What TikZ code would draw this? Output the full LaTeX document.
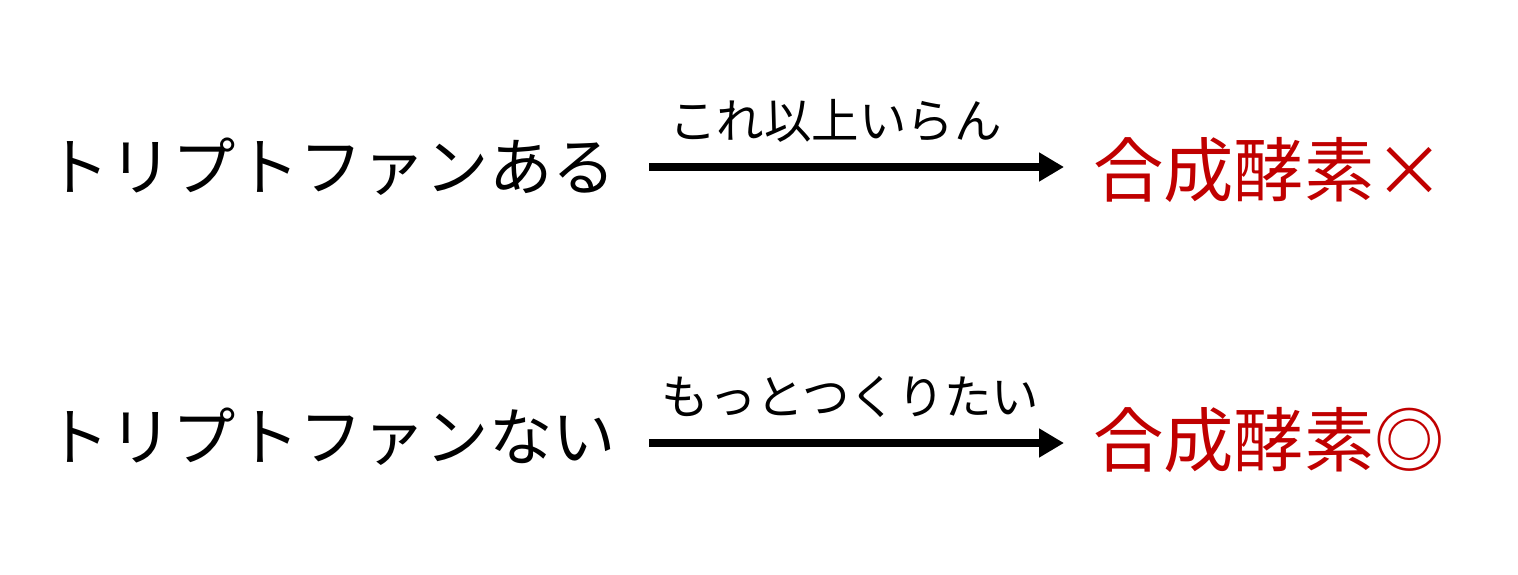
\documentclass[tikz,border=0pt]{standalone}
\usepackage{fontspec}
\setmainfont{Noto Sans CJK JP}
\usetikzlibrary{arrows.meta}
\definecolor{enzred}{RGB}{192,0,0}
\tikzset{
  amino/.style={font=\fontsize{36pt}{40pt}\selectfont, inner sep=0pt, anchor=west},
  enzyme/.style={font=\fontsize{40pt}{44pt}\selectfont, text=enzred, inner sep=0pt, anchor=west},
  signal/.style={font=\fontsize{27pt}{31pt}\selectfont, inner sep=0pt},
  flow/.style={line width=4.5pt, -{Triangle[length=0.5cm,width=0.55cm]}}
}
\begin{document}
\begin{tikzpicture}
\useasboundingbox (0,0) rectangle (30.36,-11.48);
\node (src1)[amino] at (0.92, -3.34) {トリプトファンある};
\node (dst1)[enzyme] at (21.86, -3.4) {合成酵素×};
\node (src2)[amino] at (0.92, -8.74) {トリプトファンない};
\node (dst2)[enzyme] at (21.86, -8.8) {合成酵素◎};
\draw[flow, shorten <=0.66cm, shorten >=0.58cm] (src1.east) -- (src1.east -| dst1.west)
  node[signal, midway, yshift=0.92cm, xshift=-0.38cm] {これ以上いらん};
\draw[flow, shorten <=0.66cm, shorten >=0.58cm] ([yshift=-0.12cm]src2.east) -- ([yshift=-0.12cm]src2.east -| dst2.west)
  node[signal, midway, yshift=0.92cm, xshift=-0.08cm] {もっとつくりたい};
\end{tikzpicture}
\end{document}
